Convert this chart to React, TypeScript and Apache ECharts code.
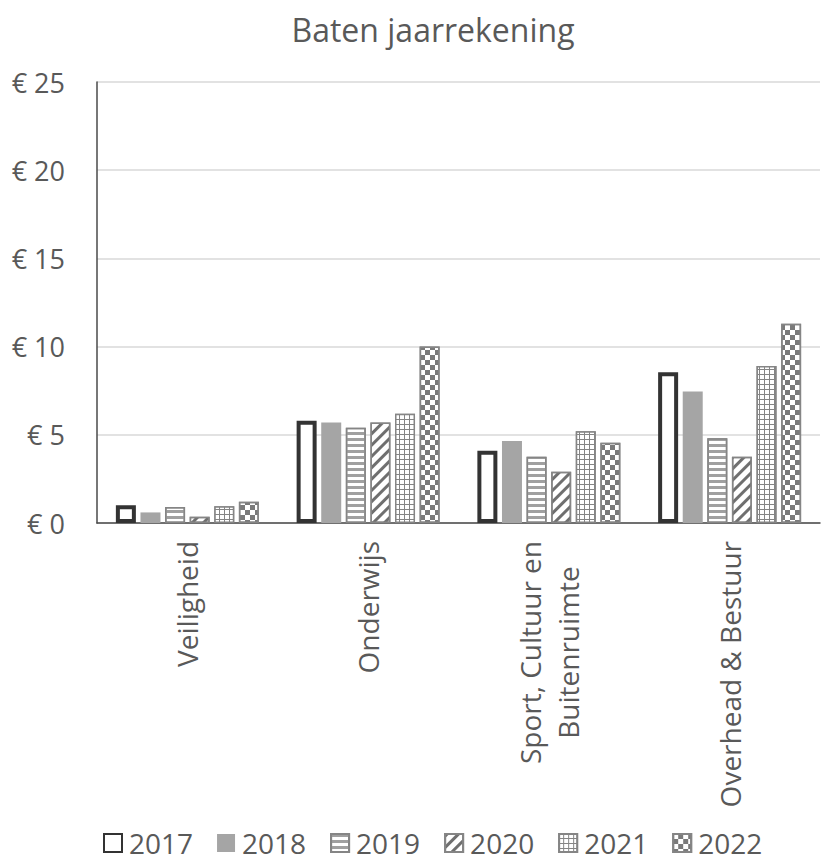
import React, { useEffect, useRef } from "react";
import * as echarts from "echarts";

const categories = [
  "Veiligheid",
  "Onderwijs",
  "Sport, Cultuur en\nBuitenruimte",
  "Overhead & Bestuur",
];
const years = ["2017", "2018", "2019", "2020", "2021", "2022"];
const v2017 = [1.0, 5.8, 4.1, 8.55];
const v2018 = [0.6, 5.7, 4.65, 7.45];
const v2019 = [0.9, 5.4, 3.75, 4.8];
const v2020 = [0.35, 5.7, 2.9, 3.75];
const v2021 = [0.95, 6.2, 5.2, 8.9];
const v2022 = [1.2, 10.0, 4.55, 11.3];
const yTicks = { min: 0, max: 25, interval: 5 };

const TXT = "#595959";
const PAT = "#858585";

export default function App() {
  const ref = useRef<HTMLDivElement>(null);
  useEffect(() => {
    const chart = echarts.init(ref.current!, undefined, { renderer: "svg" });
    const values = [v2017, v2018, v2019, v2020, v2021, v2022];
    const styles: any[] = [
      { color: "#ffffff", borderColor: "#333333", borderWidth: 4 },
      { color: "#a5a5a5" },
      {
        color: "#ffffff",
        borderColor: PAT,
        borderWidth: 1.5,
        decal: { symbol: "rect", symbolSize: 1, color: "#a0a0a0", dashArrayX: [1, 0], dashArrayY: [3, 3] },
      },
      {
        color: "#ffffff",
        borderColor: PAT,
        borderWidth: 1.5,
        decal: { symbol: "rect", symbolSize: 1, color: "#6f6f6f", dashArrayX: [1, 0], dashArrayY: [3, 5], rotation: -Math.PI / 4 },
      },
      {
        color: PAT,
        borderColor: PAT,
        borderWidth: 1.5,
        decal: { symbol: "rect", symbolSize: 1, color: "#ffffff", dashArrayX: [4, 1], dashArrayY: [4, 1] },
      },
      {
        color: "#ffffff",
        borderColor: PAT,
        borderWidth: 1.5,
        decal: { symbol: "rect", symbolSize: 1, color: "#7a7a7a", dashArrayX: [[5, 5], [0, 5, 5, 0]], dashArrayY: [5, 0] },
      },
    ];
    chart.setOption({
      animation: false,
      textStyle: { fontFamily: "Open Sans" },
      title: {
        text: "Baten jaarrekening",
        left: 428,
        textAlign: "center",
        top: 8,
        textStyle: { fontSize: 32, fontWeight: "normal", color: TXT, fontFamily: "Open Sans" },
      },
      legend: {
        bottom: 2,
        left: 98,
        icon: "rect",
        itemWidth: 18,
        itemHeight: 18,
        itemGap: 24,
        textStyle: { fontSize: 28, color: TXT, fontFamily: "Open Sans", padding: [0, 0, 0, 2] },
        data: years,
      },
      grid: { left: 97, right: 8, top: 82, bottom: 341, containLabel: false, outerBoundsMode: "none" },
      xAxis: {
        type: "category",
        data: categories,
        axisLine: { show: true, lineStyle: { color: "#4a4a4a", width: 1.5 } },
        axisTick: { show: false },
        axisLabel: {
          rotate: 90,
          margin: 18,
          interval: 0,
          fontSize: 28,
          color: TXT,
          fontFamily: "Open Sans",
          lineHeight: 38,
          overflow: "none",
          formatter: (v: string) =>
            v
              .split("\n")
              .map((s) => "{a|" + s + "}")
              .join("\n"),
          rich: { a: { fontSize: 28, color: TXT, fontFamily: "Open Sans", lineHeight: 38, align: "center" } },
        },
      },
      yAxis: {
        type: "value",
        min: yTicks.min,
        max: yTicks.max,
        interval: yTicks.interval,
        axisLine: { show: true, lineStyle: { color: "#4a4a4a", width: 1.5 } },
        axisTick: { show: false },
        splitLine: { lineStyle: { color: "#d9d9d9", width: 1.5 } },
        axisLabel: {
          formatter: "€ {value}",
          fontSize: 27,
          color: TXT,
          margin: 32,
          fontFamily: "Open Sans",
        },
      },
      series: years.map((y, i) => ({
        name: y,
        type: "bar",
        data: values[i],
        barWidth: 20,
        barGap: "23%",
        itemStyle: styles[i],
      })),
    });
    return () => chart.dispose();
  }, []);
  return (
    <div
      ref={ref}
      style={{ position: "fixed", left: 0, top: 0, width: 828, height: 864, background: "#fff" }}
    />
  );
}
